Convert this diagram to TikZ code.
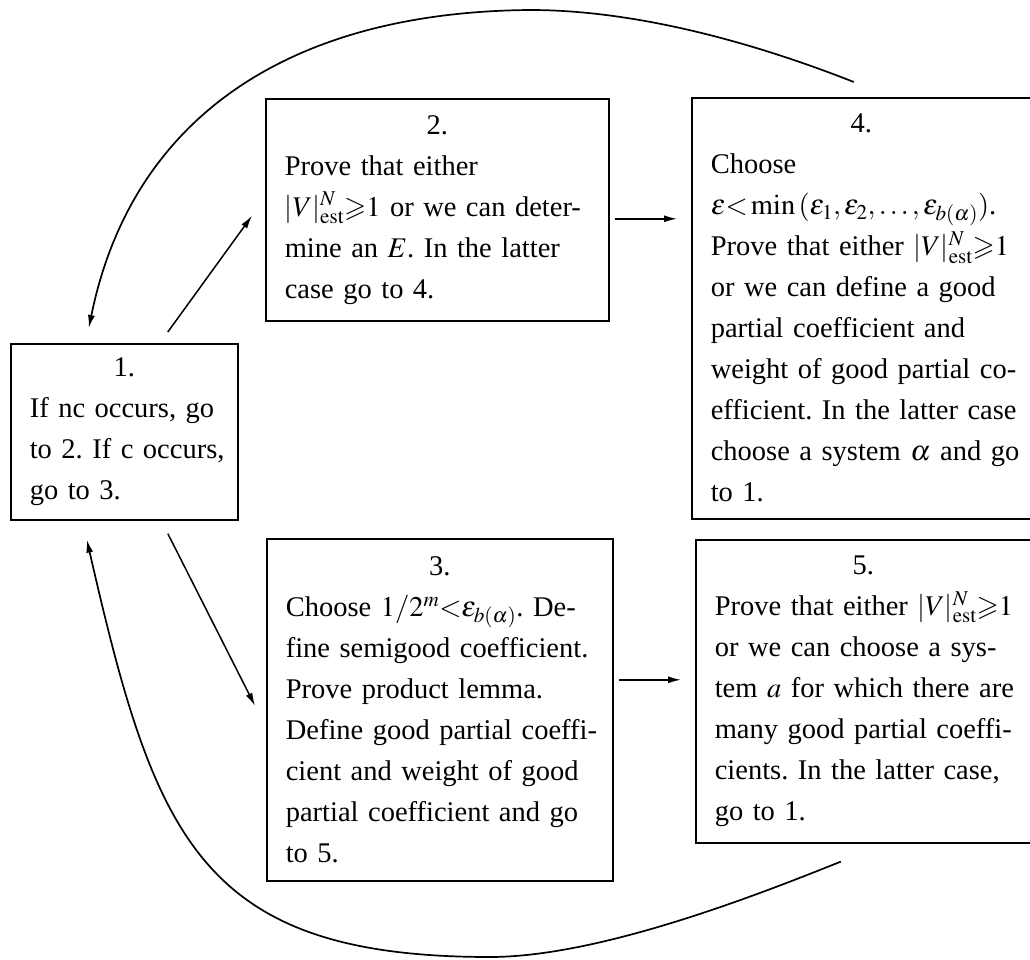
\documentclass[tikz,border=0pt]{standalone}
\usepackage{amssymb}
\usepackage{mathptmx}
\usepackage{fontspec}
\setmainfont{Liberation Serif}
\usetikzlibrary{arrows.meta}
\newcommand\Lrow[1]{\mbox{#1}\\}
\newcommand\Llast[1]{\mbox{#1}}
\newcommand\Vest{$|V|^N_{\mathrm{est}}{\geqslant}1$}
\begin{document}
\begin{tikzpicture}[x=1pt,y=-1pt,
  box/.style={draw, line width=1.6pt, anchor=north west, inner xsep=19pt, inner ysep=0pt,
    align=left, font=\fontsize{28.5}{41}\selectfont\frenchspacing},
  arr/.style={line width=1.5pt, -{Latex[length=13pt,width=7pt]}},
  loopline/.style={line width=1.7pt, -{Latex[length=13pt,width=7pt]}}]
\useasboundingbox (0,0) rectangle (1030,960);
\clip (0,0) rectangle (1030,960);
\node[box, text width=189pt, minimum height=176pt] (b1) at (10,343)
  {\makebox[\hsize]{1.}\\\Lrow{If nc occurs, go}\Lrow{to 2. If c occurs,}\Llast{go to 3.}};
\node[box, text width=305pt, minimum height=222pt] (b2) at (265,98)
  {\makebox[\hsize]{2.}\\\Lrow{Prove that either}\Lrow{\Vest{} or we can deter-}\Lrow{mine an $E$. In the latter}\Llast{case go to 4.}};
\node[box, text width=311pt, minimum height=421pt] (b4) at (691,97)
  {\makebox[\dimexpr\hsize-10pt\relax]{4.}\\\Lrow{Choose}\Lrow{$\varepsilon{<}\min\,(\varepsilon_1,\varepsilon_2,\ldots,\varepsilon_{b(\alpha)})$.}\Lrow{Prove that either \Vest}\Lrow{or we can define a good}\Lrow{partial coefficient and}\Lrow{weight of good partial co-}\Lrow{efficient. In the latter case}\Lrow{choose a system $\alpha$ and go}\Llast{to 1.}};
\node[box, text width=308pt, minimum height=342pt] (b3) at (266,538)
  {\makebox[\hsize]{3.}\\\Lrow{Choose $1/2^m{<}\varepsilon_{b(\alpha)}$. De-}\Lrow{fine semigood coefficient.}\Lrow{Prove product lemma.}\Lrow{Define good partial coeffi-}\Lrow{cient and weight of good}\Lrow{partial coefficient and go}\Llast{to 5.}};
\node[box, text width=307pt, minimum height=303pt] (b5) at (695,539)
  {\makebox[\dimexpr\hsize-10pt\relax]{5.}\\\Lrow{Prove that either \Vest}\Lrow{or we can choose a sys-}\Lrow{tem $a$ for which there are}\Lrow{many good partial coeffi-}\Lrow{cients. In the latter case,}\Llast{go to 1.}};
% straight connectors
\draw[arr] ([xshift=43.5pt,yshift=11pt]b1.north) -- ([xshift=-13pt,yshift=-6pt]b2.west);
\draw[arr] ([xshift=43.5pt,yshift=-13pt]b1.south) -- ([xshift=-11pt,yshift=4pt]b3.west);
\draw[arr] ([xshift=5pt,yshift=-9pt]b2.east) -- ([xshift=-14pt,yshift=89.5pt]b4.west);
\draw[arr] ([xshift=5pt,yshift=30pt]b3.east) -- ([xshift=-14pt,yshift=11.5pt]b5.west);
% loops back to 1
\draw[loopline] ([xshift=-12.5pt,yshift=15pt]b4.north) .. controls (760,45) and (640,10) .. (530,10)
  .. controls (280,12) and (130,125) .. ([xshift=-35.5pt,yshift=15pt]b1.north);
\draw[loopline] ([xshift=-27.5pt,yshift=-18pt]b5.south) .. controls (760,894) and (600,957) .. (490,957)
  .. controls (200,957) and (155,838) .. ([xshift=-37.5pt,yshift=-19pt]b1.south);
\end{tikzpicture}
\end{document}
